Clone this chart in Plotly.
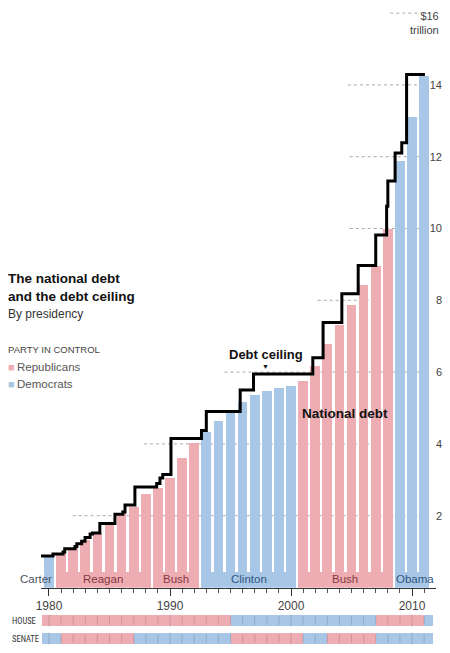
import plotly.graph_objects as go

# national debt by fiscal year, trillions of dollars
years = list(range(1980, 2012))
debt = [0.85, 0.96, 1.10, 1.31, 1.52, 1.79, 2.07, 2.25, 2.61, 2.76, 3.04, 3.60, 4.02,
        4.34, 4.63, 4.85, 5.17, 5.37, 5.48, 5.57, 5.62, 5.75, 6.18, 6.77, 7.32, 7.88,
        8.44, 8.96, 9.98, 11.88, 13.10, 14.25]
party = ['D'] + ['R'] * 12 + ['D'] * 8 + ['R'] * 8 + ['D'] * 3

# statutory debt ceiling, step changes
ceiling_x = [1979.34, 1980.33, 1981.16, 1981.30, 1982.15, 1982.30, 1982.70, 1982.98,
             1983.40, 1983.60, 1984.20, 1985.45, 1986.10, 1986.28, 1987.10, 1988.90,
             1989.17, 1989.40, 1990.08, 1992.60, 1993.00, 1995.80, 1996.90, 2001.80,
             2002.65, 2004.20, 2005.55, 2007.00, 2007.90, 2008.00, 2008.60, 2009.15,
             2009.55, 2011.07]
ceiling = [0.88, 0.93, 0.99, 1.08, 1.14, 1.22, 1.29, 1.39, 1.49, 1.52, 1.78, 2.04, 2.10,
           2.30, 2.80, 2.90, 3.05, 3.15, 4.15, 4.37, 4.90, 5.50, 5.95, 6.40, 7.38, 8.18,
           8.97, 9.82, 10.62, 11.32, 12.10, 12.39, 14.29, 14.29]

# presidencies
pres_names = ['Carter', 'Reagan', 'Bush', 'Clinton', 'Bush', 'Obama']
pres_start = [1979.5, 1980.5, 1988.5, 1992.5, 2000.5, 2008.5]
pres_end = [1980.5, 1988.5, 1992.5, 2000.5, 2008.5, 2011.5]
pres_party = ['D', 'R', 'R', 'D', 'R', 'D']

# congress control strips (as drawn)
house_breaks = [1979.42, 1995, 2007, 2011, 2011.74]
house_party = ['R', 'D', 'R', 'D']
senate_breaks = [1979.42, 1981, 1987, 1995, 2001, 2003, 2007, 2011.74]
senate_party = ['D', 'R', 'D', 'R', 'D', 'R', 'D']

yticks = [2, 4, 6, 8, 10, 12, 14]
top_tick = 16

RED = '#eeadb2'
BLUE = '#a8c6e6'
COL = {'R': RED, 'D': BLUE}
LABEL_COL = {'R': '#86393e', 'D': '#2f5680'}
FONT = 'Liberation Sans'
NARROW = 'Liberation Sans Narrow, Roboto Condensed, DejaVu Sans Condensed, Liberation Sans'

# the page body has an 8px margin all round; size the figure to the area inside it
OFF = 8
W, H = 450 - 2 * OFF, 653 - 2 * OFF


def px(x):
    return max(x - OFF, 0) / W


def py(y):
    return (H - (y - OFF)) / H


fig = go.Figure()

for p, name in [('R', 'Republicans'), ('D', 'Democrats')]:
    xs = [y for y, q in zip(years, party) if q == p]
    vs = [v for v, q in zip(debt, party) if q == p]
    fig.add_trace(go.Bar(x=xs, y=vs, width=0.8, marker=dict(color=COL[p], line_width=0),
                         name=name, showlegend=False, hoverinfo='x+y'))

# presidency bands along the bottom
fig.add_trace(go.Bar(
    x=[(a + b) / 2 for a, b in zip(pres_start, pres_end)],
    y=[0.42] * len(pres_names),
    width=[b - a - 0.2 for a, b in zip(pres_start, pres_end)],
    marker=dict(color=[COL[p] for p in pres_party], line_width=0),
    showlegend=False, hoverinfo='skip'))

fig.add_trace(go.Scatter(x=ceiling_x, y=ceiling, mode='lines', line_shape='hv',
                         line=dict(color='black', width=3), showlegend=False,
                         name='Debt ceiling'))


def strip(breaks, parties, row):
    fig.add_trace(go.Bar(
        y=[row] * len(parties),
        x=[b - a for a, b in zip(breaks[:-1], breaks[1:])],
        base=breaks[:-1], orientation='h', width=0.62,
        marker=dict(color=[COL[p] for p in parties], line_width=0),
        xaxis='x2', yaxis='y2', showlegend=False, hoverinfo='skip'))
    fig.add_trace(go.Scatter(
        x=years, y=[row] * len(years), mode='markers',
        marker=dict(symbol='line-ns', size=[9 if y % 10 == 0 else 6 for y in years],
                    line=dict(width=1, color='rgba(60,60,60,0.28)')),
        xaxis='x2', yaxis='y2', showlegend=False, hoverinfo='skip'))


strip(house_breaks, house_party, 'HOUSE')
strip(senate_breaks, senate_party, 'SENATE')

# dotted gridlines, only where they show above the bars
grid_start = {2: 1981.95, 4: 1987.85, 6: 1994.5, 8: 2002.2, 10: 2004.85, 12: 2004.85,
              14: 2004.7, 16: 2008.2}
shapes = []
for v in yticks + [top_tick]:
    shapes.append(dict(type='line', xref='x', yref='y', layer='below',
                       x0=grid_start[v], x1=2010.75 if v == top_tick else 2011.15,
                       y0=v, y1=v, line=dict(color='#aaaaaa', width=1, dash='dot')))

ann = []
for n, a, b, p in zip(pres_names, pres_start, pres_end, pres_party):
    if n == 'Carter':
        ann.append(dict(x=b, y=0.25, text=n, xanchor='right', xshift=-1,
                        font=dict(color='#4a5565', size=11.5)))
    else:
        ann.append(dict(x=(a + b) / 2, y=0.25, text=n, xanchor='center',
                        xshift=3 if n == 'Obama' else 0,
                        font=dict(color=LABEL_COL[p], size=11.5)))
for a in ann:
    a.update(xref='x', yref='y', showarrow=False, yanchor='middle')

ann += [
    dict(x=1997.93, y=6.48, xref='x', yref='y', text='<b>Debt ceiling</b>',
         font=dict(size=13, color='#111')),
    dict(x=1997.85, y=6.17, xref='x', yref='y', text='▼', font=dict(size=7, color='#111')),
    dict(x=2004.46, y=4.86, xref='x', yref='y', text='<b>National debt</b>',
         font=dict(size=13.5, color='#111')),
    dict(x=1, y=1, xref='paper', yref='paper', text=f'${top_tick}<br>trillion',
         xanchor='right', yanchor='top', align='right', xshift=-1,
         font=dict(size=11, color='#444')),
]
for txt, ypx, size, col in [('<b>The national debt</b>', 278, 13.5, '#111'),
                            ('<b>and the debt ceiling</b>', 296, 13.5, '#111'),
                            ('By presidency', 314, 12, '#333'),
                            ('PARTY IN CONTROL', 349, 9.5, '#444'),
                            ('Republicans', 367, 11.5, '#555'),
                            ('Democrats', 384, 11.5, '#555')]:
    x0 = 17 if txt in ('Republicans', 'Democrats') else 0
    ann.append(dict(x=px(x0), y=py(ypx), xref='paper', yref='paper', xshift=-2,
                    text=txt, xanchor='left', yanchor='middle', showarrow=False,
                    font=dict(size=size, color=col)))
for sym_col, ypx in [(RED, 367), (BLUE, 384)]:
    ann.append(dict(x=0, y=py(ypx), xref='paper', yref='paper', xshift=-2,
                    text='■', xanchor='left', yanchor='middle', showarrow=False,
                    font=dict(size=11, color=sym_col)))
for a in ann:
    a.setdefault('showarrow', False)

xdom = [px(41), px(436)]
xrange = [1979.34, 2011.98]

fig.update_layout(
    width=W, height=H,
    margin=dict(l=0, r=0, t=0, b=0, autoexpand=False),
    paper_bgcolor='white', plot_bgcolor='white',
    font=dict(family=FONT, color='#333'),
    barmode='overlay', bargap=0,
    showlegend=False,
    shapes=shapes, annotations=ann,
    xaxis=dict(domain=xdom, range=xrange, showgrid=False, zeroline=False,
               automargin=False,
               showline=True, linecolor='#333', linewidth=1,
               tick0=1980, dtick=10, ticks='outside', ticklen=7, tickcolor='#333',
               tickfont=dict(size=12, color='#444'),
               minor=dict(dtick=1, tick0=1980, ticks='outside', ticklen=4,
                          tickcolor='#555'),
               anchor='y'),
    yaxis=dict(domain=[py(587.5), 1], range=[0, (587.5 - OFF) / 35.9], showgrid=False,
               automargin=False,
               zeroline=False, side='left', anchor='free', position=1,
               ticklabelposition='outside', tickvals=yticks,
               ticks='', tickfont=dict(size=11, color='#444')),
    xaxis2=dict(domain=xdom, range=xrange, matches='x', anchor='y2', visible=False,
                automargin=False),
    yaxis2=dict(domain=[0, py(610)], range=[-0.35, 1.6], type='category',
                automargin=False,
                categoryorder='array', categoryarray=['SENATE', 'HOUSE'],
                anchor='free', position=0, side='left', ticklabelposition='inside',
                ticks='', showgrid=False, zeroline=False, showline=False,
                tickfont=dict(size=8.5, color='#333', family=NARROW)),
)

fig.write_html("out.html")
